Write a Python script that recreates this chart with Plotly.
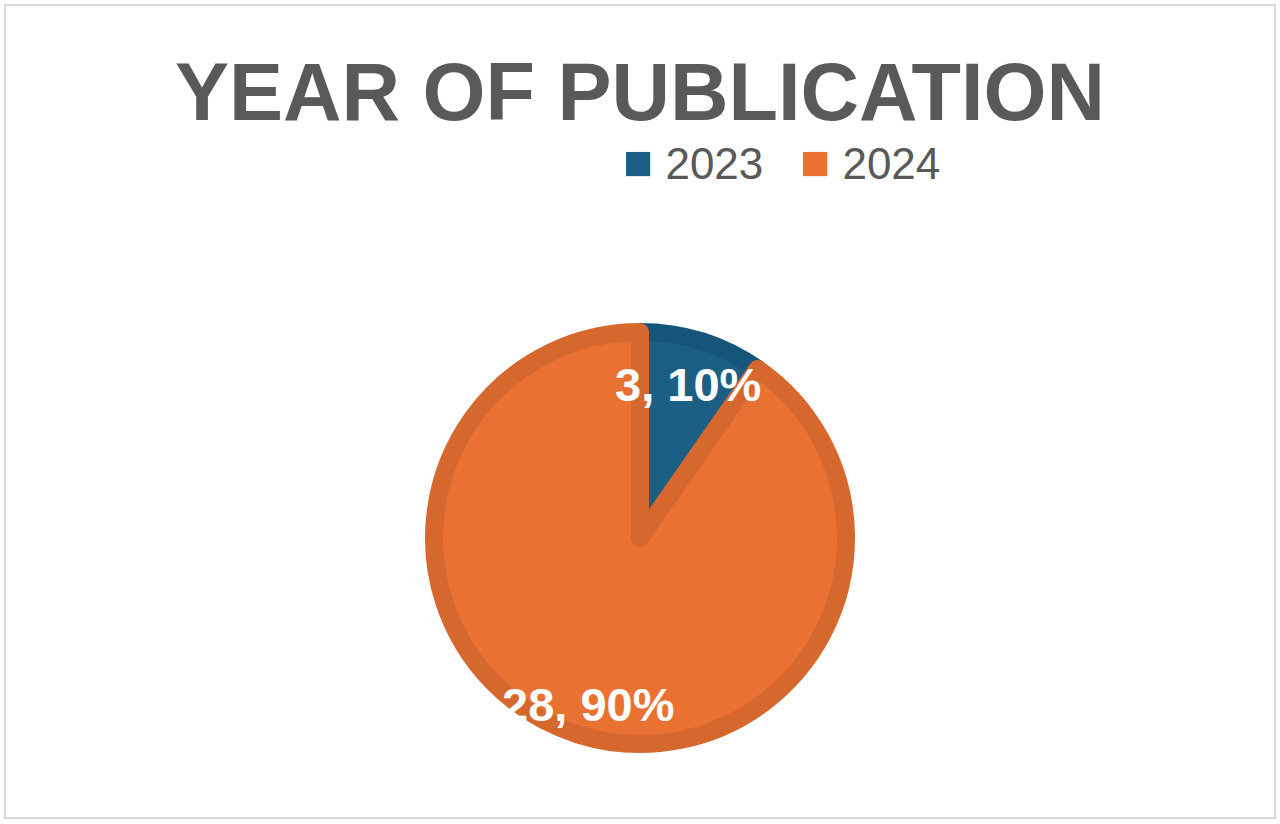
import math
import plotly.graph_objects as go

# data
years = ["2023", "2024"]
counts = [3, 28]
slice_colors = ["#1B5F85", "#E97132"]
edge_colors = ["#16557A", "#D6682E"]

W, H = 1280, 824
cx, cy = 640, 538          # pie centre in pixels (from top)
r_outer = 215               # visible outer radius
edge_w = 18
r = r_outer - edge_w / 2    # plotly radius (stroke is centred on the edge)

fig = go.Figure(go.Pie(
    labels=years,
    values=counts,
    sort=False,
    direction="clockwise",
    rotation=0,
    textinfo="none",
    hoverinfo="label+value+percent",
    marker=dict(colors=slice_colors, line=dict(color=edge_colors, width=edge_w)),
    domain=dict(x=[0, 1], y=[(H - cy - r) / H, (H - cy + r) / H]),
    showlegend=False,
))

# data labels "value, pct" at each slice's mid angle
total = sum(counts)
label_radius = [0.75, 0.81]
annotations = []
cum = 0
for i, v in enumerate(counts):
    mid = (cum + v / 2) / total * 2 * math.pi
    cum += v
    px_ = cx + math.sin(mid) * r_outer * label_radius[i]
    py_ = cy - math.cos(mid) * r_outer * label_radius[i]
    annotations.append(dict(
        x=px_ / W, y=1 - py_ / H, xref="paper", yref="paper",
        text=f"<b>{v}, {round(v / total * 100)}%</b>", showarrow=False,
        font=dict(family="Liberation Sans", size=47, color="white"),
        xanchor="center", yanchor="middle",
    ))

# legend built as text so the colour squares are as big as the reference
legend_text = "   ".join(
    f"<span style='color:{c};font-size:50px'>■</span> {y}" for y, c in zip(years, slice_colors)
)
annotations.append(dict(
    x=781 / W, y=1 - 162 / H, xref="paper", yref="paper",
    text=legend_text, showarrow=False,
    font=dict(family="Liberation Sans", size=44, color="#595959"),
    xanchor="center", yanchor="middle",
))

fig.update_layout(
    width=W, height=H,
    margin=dict(l=0, r=0, t=0, b=0),
    paper_bgcolor="white",
    title=dict(
        text="<b>YEAR OF PUBLICATION</b>",
        x=0.5, xanchor="center",
        y=1 - 92 / H, yanchor="middle", yref="container",
        font=dict(family="Liberation Sans", size=81, color="#595959"),
    ),
    annotations=annotations,
    shapes=[dict(
        type="rect", xref="paper", yref="paper",
        x0=5 / W, x1=1275 / W, y0=1 - 818 / H, y1=1 - 5 / H,
        line=dict(color="#D9D9D9", width=2),
    )],
)

# drop the default page margin so the figure sits at the window's corner
fig.write_html("out.html", config={"displayModeBar": False},
               post_script="document.body.style.margin='0';")
